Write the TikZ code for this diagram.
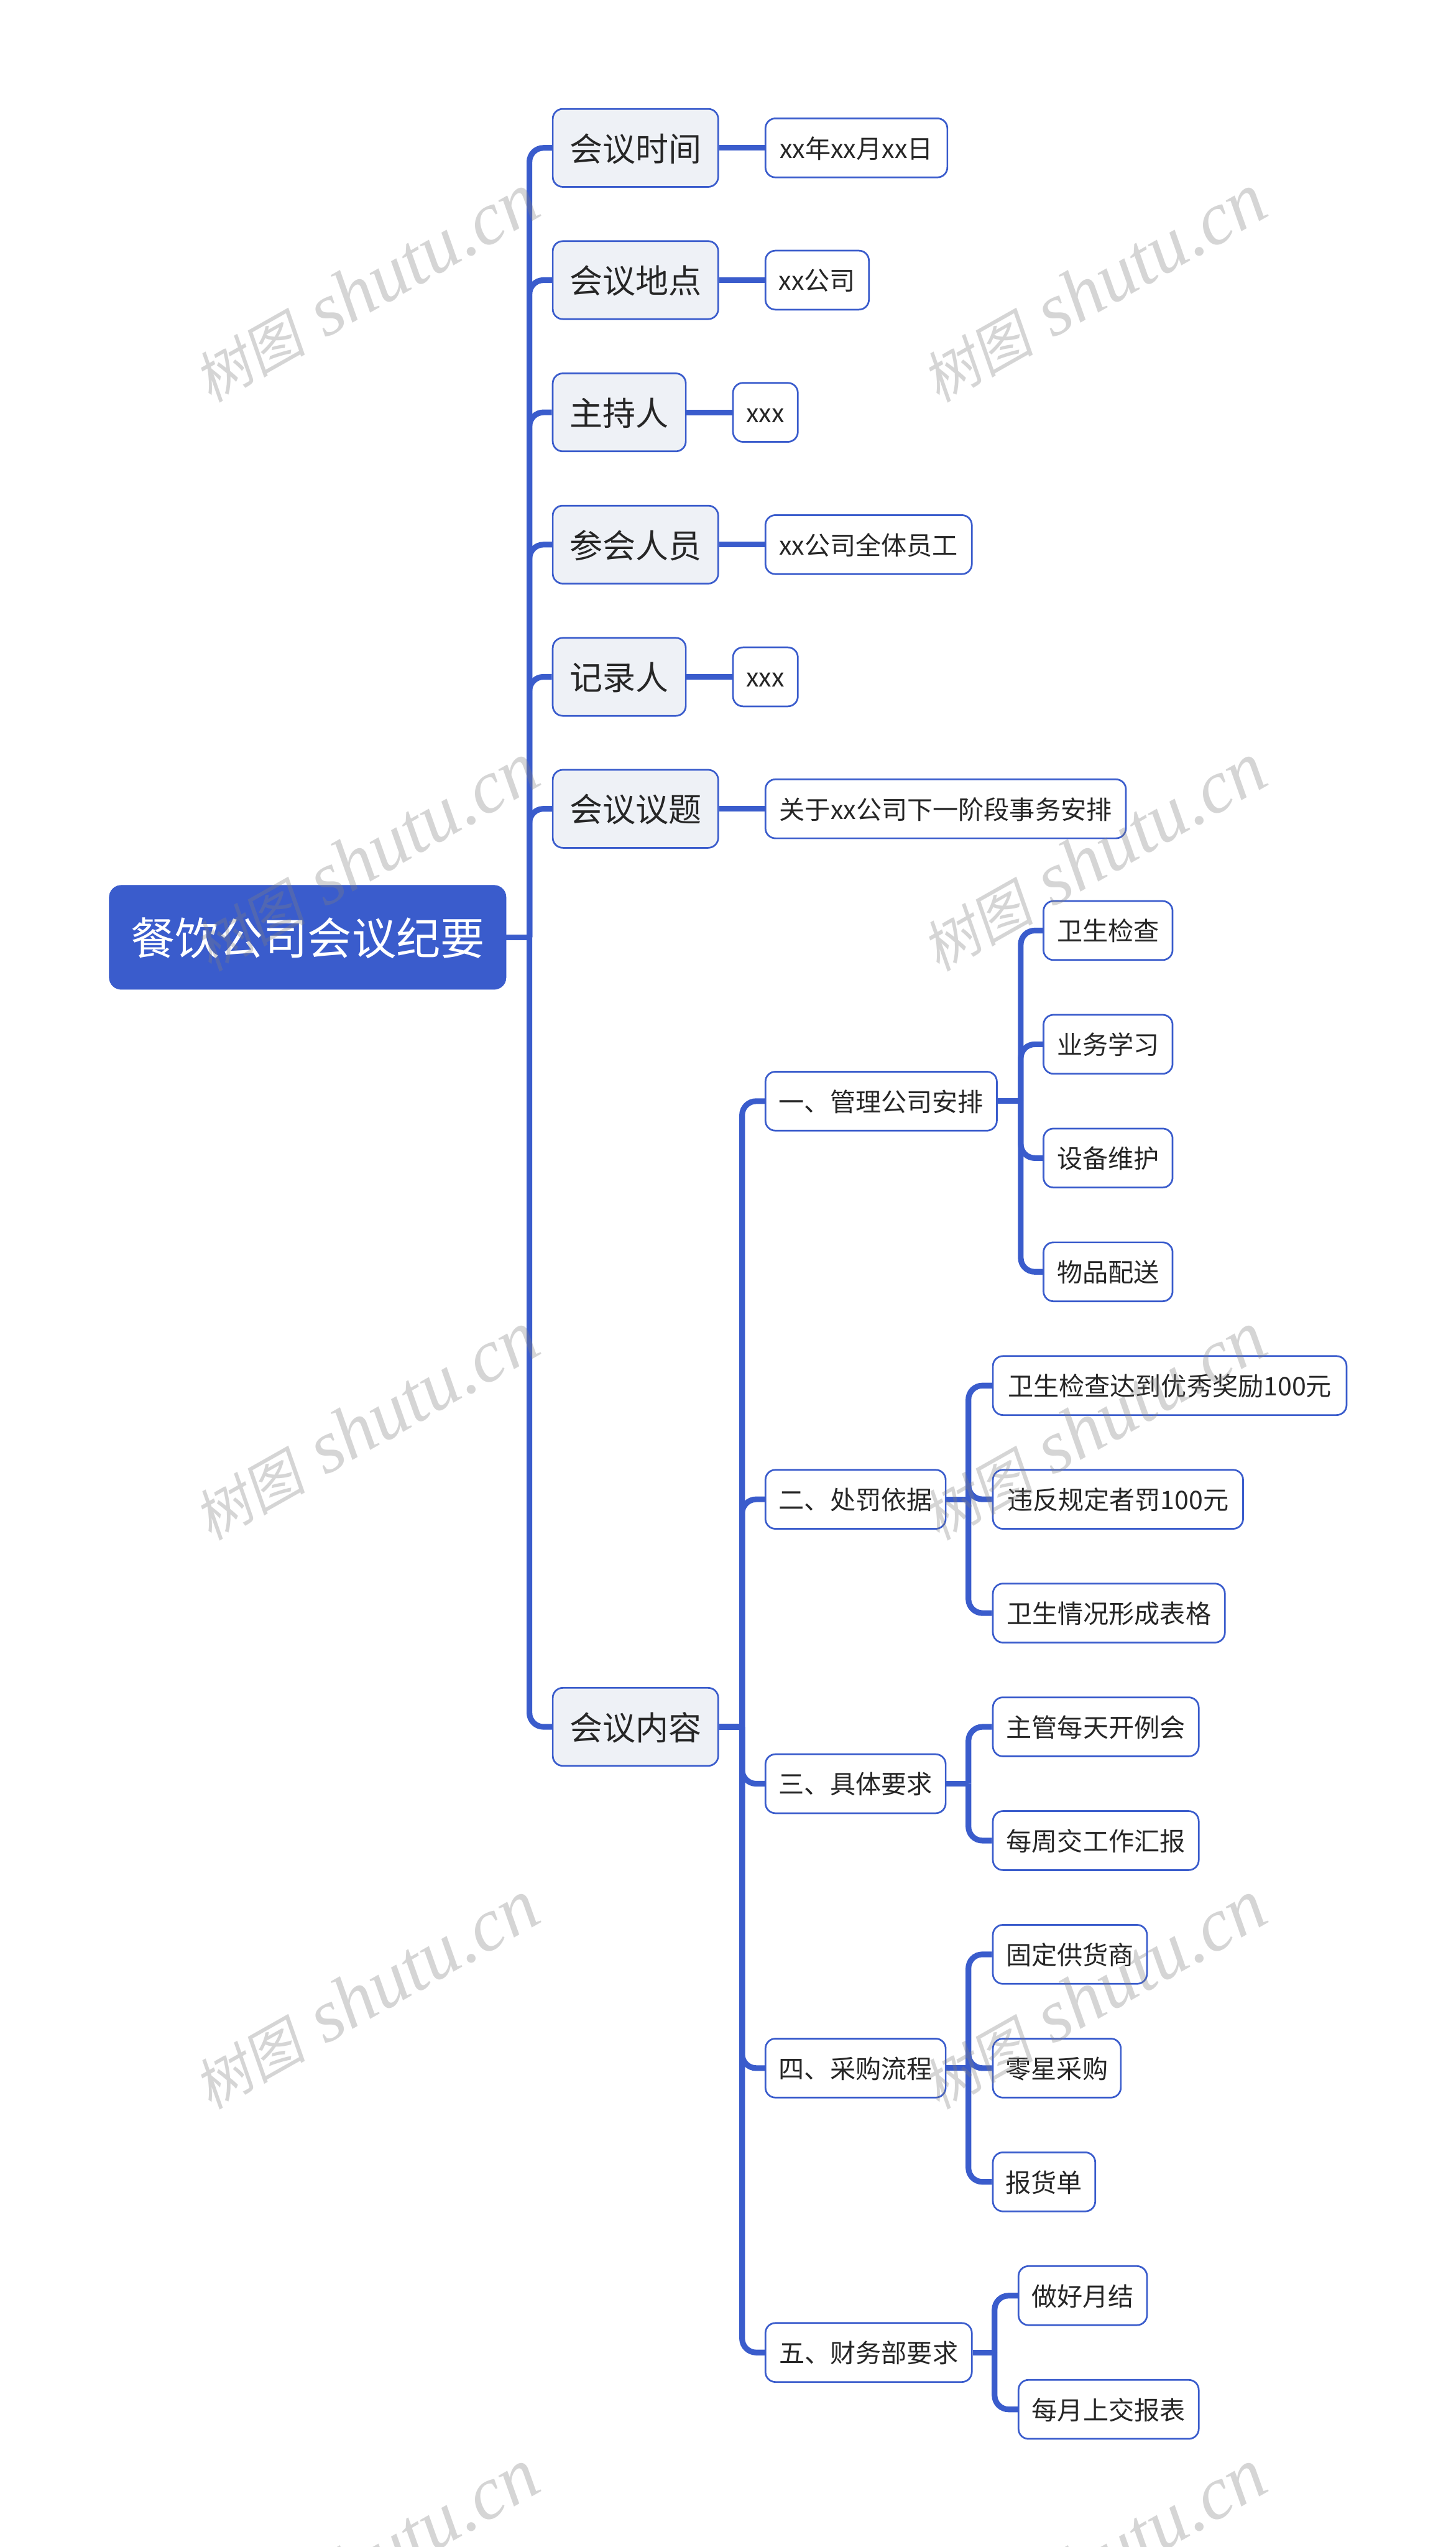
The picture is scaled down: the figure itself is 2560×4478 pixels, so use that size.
\documentclass[tikz,border=0pt]{standalone}
\usepackage{fontspec}
\setmainfont{Noto Sans CJK SC}
\newfontfamily\wmcjk[FakeSlant=0.18]{Noto Sans CJK SC}
\newfontfamily\wmlat{Liberation Serif}[ItalicFont=Liberation Serif Italic]
\definecolor{mainblue}{HTML}{3A5CCC}
\definecolor{softfill}{HTML}{EEF1F6}
\definecolor{inktext}{HTML}{262626}
\tikzset{
  rootbox/.style={draw=mainblue,fill=mainblue,rounded corners=12pt,text=white,inner sep=0pt,minimum height=104.2pt,text height=35.4pt,text depth=0pt,font=\fontsize{44.3pt}{50pt}\selectfont},
  mainbox/.style={draw=mainblue,line width=1.7pt,fill=softfill,rounded corners=10pt,text=inktext,inner sep=0pt,minimum height=78pt,text height=26.4pt,text depth=0pt,font=\fontsize{33pt}{40pt}\selectfont},
  leafbox/.style={draw=mainblue,line width=1.7pt,fill=white,rounded corners=10pt,text=inktext,inner sep=0pt,minimum height=59pt,text height=20.5pt,text depth=0pt,font=\fontsize{25.6pt}{32pt}\selectfont},
  conn/.style={draw=mainblue,line width=5.7pt},
  kidconn/.style={conn,rounded corners=14pt},
  wm/.style={rotate=29.5,text=gray,text opacity=.33,inner sep=0pt}
}
% box from left x to right x at centre y
\newcommand{\bx}[6]{\node[#1,minimum width=#4*0.56906pt] (#2) at ({#3+#4/2},#5) {#6};}
\begin{document}
\begin{tikzpicture}[x=0.02cm,y=-0.02cm]
\path[use as bounding box] (0,0) rectangle (2560,4478);
\clip (0,0) rectangle (2560,4478);
% trunk coordinates
\coordinate (ta) at (931,1648);
\coordinate (tb) at (1305,3036);
\coordinate (t1) at (1795,1936);
\coordinate (t2) at (1703,2636);
\coordinate (t3) at (1703,3136);
\coordinate (t4) at (1703,3636);
\coordinate (t5) at (1749,4136);
% nodes
\bx{rootbox}{root}{192}{698}{1648}{餐饮公司会议纪要}
\bx{mainbox}{m1}{972}{291}{260}{会议时间}
\bx{mainbox}{m2}{972}{291}{492.5}{会议地点}
\bx{mainbox}{m3}{972}{234}{725}{主持人}
\bx{mainbox}{m4}{972}{291}{957.5}{参会人员}
\bx{mainbox}{m5}{972}{234}{1190}{记录人}
\bx{mainbox}{m6}{972}{291}{1422}{会议议题}
\bx{mainbox}{m7}{972}{291}{3036}{会议内容}
\bx{leafbox}{d1}{1346}{320}{260}{xx年xx月xx日}
\bx{leafbox}{d2}{1346}{182}{492.5}{xx公司}
\bx{leafbox}{d3}{1289}{114}{725}{xxx}
\bx{leafbox}{d4}{1346}{363}{957.5}{xx公司全体员工}
\bx{leafbox}{d5}{1289}{114}{1190}{xxx}
\bx{leafbox}{d6}{1346}{634}{1422}{关于xx公司下一阶段事务安排}
\bx{leafbox}{s1}{1346}{407}{1936}{一、管理公司安排}
\bx{leafbox}{s2}{1346}{317}{2636}{二、处罚依据}
\bx{leafbox}{s3}{1346}{317}{3136}{三、具体要求}
\bx{leafbox}{s4}{1346}{317}{3636}{四、采购流程}
\bx{leafbox}{s5}{1346}{363}{4136}{五、财务部要求}
\bx{leafbox}{a1}{1835}{227}{1636}{卫生检查}
\bx{leafbox}{a2}{1835}{227}{1836}{业务学习}
\bx{leafbox}{a3}{1835}{227}{2036}{设备维护}
\bx{leafbox}{a4}{1835}{227}{2236}{物品配送}
\bx{leafbox}{b1}{1746}{622}{2436}{卫生检查达到优秀奖励100元}
\bx{leafbox}{b2}{1746}{440}{2636}{违反规定者罚100元}
\bx{leafbox}{b3}{1746}{408}{2836}{卫生情况形成表格}
\bx{leafbox}{c1}{1746}{362}{3036}{主管每天开例会}
\bx{leafbox}{c2}{1746}{362}{3236}{每周交工作汇报}
\bx{leafbox}{e1}{1746}{271}{3436}{固定供货商}
\bx{leafbox}{e2}{1746}{225}{3636}{零星采购}
\bx{leafbox}{e3}{1746}{180}{3836}{报货单}
\bx{leafbox}{f1}{1791}{226}{4036}{做好月结}
\bx{leafbox}{f2}{1791}{317}{4236}{每月上交报表}
% connectors
\draw[conn] (root.east) -- (ta);
\foreach \k in {m1,m2,m3,m4,m5,m6,m7} \draw[kidconn] (ta) |- (\k.west);
\foreach \p/\q in {m1/d1,m2/d2,m3/d3,m4/d4,m5/d5,m6/d6} \draw[conn] (\p.east) -- (\q.west);
\draw[conn] (m7.east) -- (tb);
\foreach \k in {s1,s2,s3,s4,s5} \draw[kidconn] (tb) |- (\k.west);
\draw[conn] (s1.east) -- (t1);
\foreach \k in {a1,a2,a3,a4} \draw[kidconn] (t1) |- (\k.west);
\draw[conn] (s2.east) -- (t2);
\foreach \k in {b1,b2,b3} \draw[kidconn] (t2) |- (\k.west);
\draw[conn] (s3.east) -- (t3);
\foreach \k in {c1,c2} \draw[kidconn] (t3) |- (\k.west);
\draw[conn] (s4.east) -- (t4);
\foreach \k in {e1,e2,e3} \draw[kidconn] (t4) |- (\k.west);
\draw[conn] (s5.east) -- (t5);
\foreach \k in {f1,f2} \draw[kidconn] (t5) |- (\k.west);
% watermarks
\foreach \cx/\cn in {643/l,1923/r}
  \foreach \cy/\rn in {507/a,1507/b,2507/c,3507/d,4507/e}
    \node[wm] (wm\cn\rn) at (\cx,\cy) {{\fontsize{56pt}{70pt}\selectfont\wmcjk 树图}\hspace{20pt}{\fontsize{75pt}{80pt}\selectfont\wmlat\itshape shutu.cn}};
\end{tikzpicture}
\end{document}
